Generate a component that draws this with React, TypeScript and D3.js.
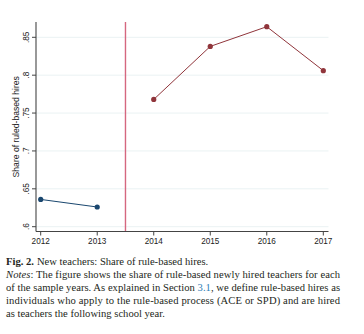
import React from "react";
import * as d3 from "d3";

const preYears = [2012, 2013];
const preShare = [0.636, 0.626];
const postYears = [2014, 2015, 2016, 2017];
const postShare = [0.768, 0.838, 0.864, 0.806];
const xTicks = [2012, 2013, 2014, 2015, 2016, 2017];
const yTicks = [0.6, 0.65, 0.7, 0.75, 0.8, 0.85];
const yTickLabels = [".6", ".65", ".7", ".75", ".8", ".85"];
const cutoff = 2013.5;

export default function App() {
  const x = d3.scaleLinear().domain([2012, 2017]).range([40.7, 323.3]);
  const y = d3.scaleLinear().domain([0.6, 0.85]).range([226.7, 37.3]);
  const line = d3
    .line<[number, number]>()
    .x((d) => x(d[0]))
    .y((d) => y(d[1]));
  const pre: [number, number][] = preYears.map((yr, i) => [yr, preShare[i]]);
  const post: [number, number][] = postYears.map((yr, i) => [yr, postShare[i]]);
  const left = 36;
  const right = 328.5;
  const top = 22;
  const bottom = 231.5;
  const sans = "'Liberation Sans', Arial, sans-serif";
  const serif = "'Liberation Serif', 'Times New Roman', serif";
  const capSize = 10.6;
  return (
    <svg
      width={364}
      height={334}
      style={{ position: "absolute", left: 0, top: 0, background: "#fff" }}
    >
      {yTicks.map((t) => (
        <line
          key={"g" + t}
          x1={left}
          x2={right}
          y1={y(t)}
          y2={y(t)}
          stroke="#eaf2f3"
          strokeWidth={1}
        />
      ))}
      <line x1={x(cutoff)} x2={x(cutoff)} y1={top} y2={bottom} stroke="#d5677f" strokeWidth={1.4} />
      <line x1={left} x2={left} y1={top} y2={bottom} stroke="#444" strokeWidth={1.1} />
      <line x1={left} x2={right} y1={bottom} y2={bottom} stroke="#444" strokeWidth={1.1} />
      {yTicks.map((t, i) => (
        <g key={"y" + t}>
          <line x1={left - 4} x2={left} y1={y(t)} y2={y(t)} stroke="#444" strokeWidth={1} />
          <text
            transform={`translate(${29},${y(t)}) rotate(-90)`}
            textAnchor="middle"
            fontFamily={sans}
            fontSize={8.2}
            fill="#222"
          >
            {yTickLabels[i]}
          </text>
        </g>
      ))}
      {xTicks.map((t) => (
        <g key={"x" + t}>
          <line x1={x(t)} x2={x(t)} y1={bottom} y2={bottom + 4} stroke="#444" strokeWidth={1} />
          <text x={x(t)} y={bottom + 12} textAnchor="middle" fontFamily={sans} fontSize={8.2} fill="#222">
            {t}
          </text>
        </g>
      ))}
      <text
        transform={`translate(${19},${(top + bottom) / 2}) rotate(-90)`}
        textAnchor="middle"
        fontFamily={sans}
        fontSize={8.6}
        fill="#222"
      >
        Share of ruled-based hires
      </text>
      <path d={line(pre) || ""} fill="none" stroke="#1a476f" strokeWidth={1} />
      {pre.map((d, i) => (
        <circle key={"p" + i} cx={x(d[0])} cy={y(d[1])} r={2.6} fill="#1a476f" />
      ))}
      <path d={line(post) || ""} fill="none" stroke="#90353b" strokeWidth={1} />
      {post.map((d, i) => (
        <circle key={"q" + i} cx={x(d[0])} cy={y(d[1])} r={2.6} fill="#90353b" />
      ))}
      <g fontFamily={serif} fontSize={capSize} fill="#231f20">
        <text x={6} y={264.5}>
          <tspan fontWeight="bold">Fig. 2.</tspan>
          <tspan dx={3}>New teachers: Share of rule-based hires.</tspan>
        </text>
        <text x={6} y={277.5} textLength={334} lengthAdjust="spacing">
          <tspan fontStyle="italic">Notes</tspan>: The figure shows the share of rule-based newly hired teachers for each
        </text>
        <text x={6} y={290.5} textLength={334} lengthAdjust="spacing">
          of the sample years. As explained in Section <tspan fill="#2f7fb5">3.1</tspan>, we define rule-based hires as
        </text>
        <text x={6} y={303.5} textLength={334} lengthAdjust="spacing">
          individuals who apply to the rule-based process (ACE or SPD) and are hired
        </text>
        <text x={6} y={316.5}>as teachers the following school year.</text>
      </g>
    </svg>
  );
}
